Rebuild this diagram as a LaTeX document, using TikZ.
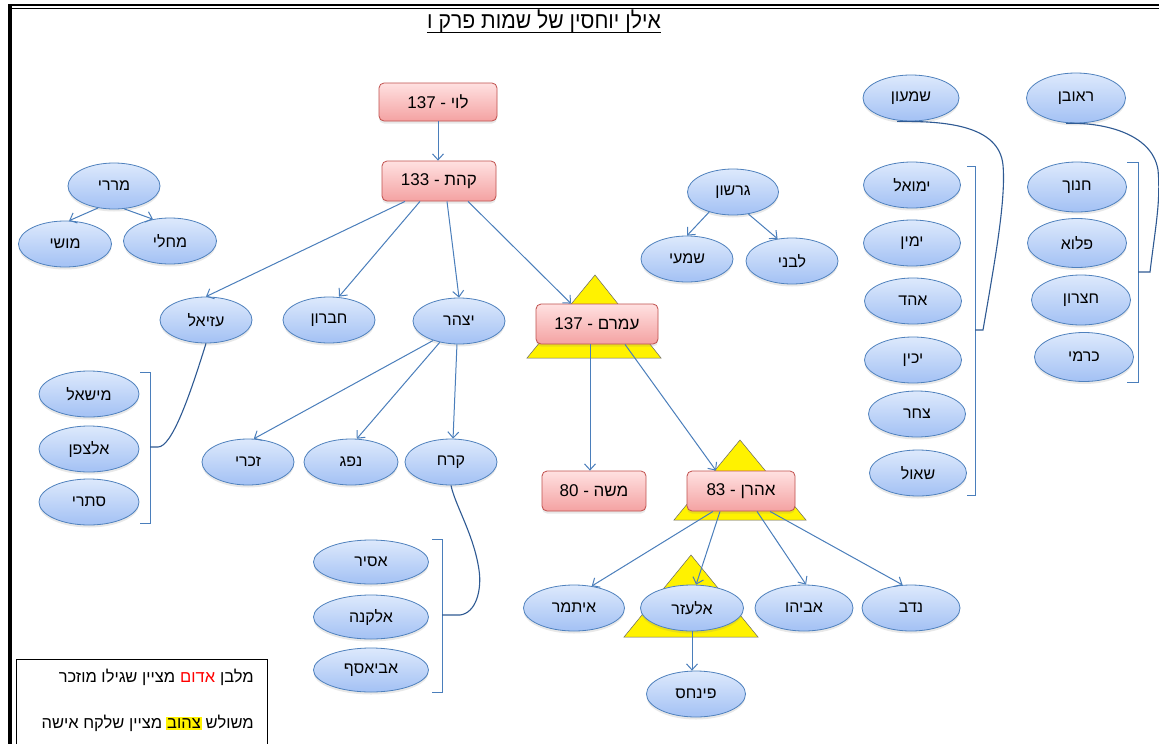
\documentclass[tikz,border=0pt]{standalone}
\usepackage{fontspec}
\setmainfont{Liberation Sans}
\newfontfamily\hebfont[Script=Hebrew]{Liberation Sans}
\newfontfamily\titlefont[Script=Hebrew,FakeStretch=0.92]{Liberation Sans}
\TeXXeTstate=1
\usetikzlibrary{arrows.meta,shapes.geometric,shadows}
\newcommand{\heb}[1]{\beginR #1\endR}
\definecolor{linkblue}{HTML}{4A7EBB}
\definecolor{curveblue}{HTML}{2F5A93}
\definecolor{elltop}{HTML}{DDE9FC}
\definecolor{ellbot}{HTML}{A3C1F4}
\definecolor{ellline}{HTML}{4F81BD}
\definecolor{recttop}{HTML}{FFE1E1}
\definecolor{rectbot}{HTML}{F4A2A2}
\definecolor{rectline}{HTML}{C0504D}
\tikzset{
  son/.style={ellipse, draw=ellline, line width=0.8pt, top color=elltop, bottom color=ellbot,
    minimum width=92pt, minimum height=46pt, inner sep=0pt,
    font=\hebfont\fontsize{16pt}{18pt}\selectfont,
    drop shadow={opacity=0.18, shadow xshift=0pt, shadow yshift=-2.5pt}},
  elder/.style={rectangle, rounded corners=5pt, draw=rectline, line width=0.8pt, top color=recttop,
    bottom color=rectbot, minimum height=40pt, inner sep=0pt,
    font=\hebfont\fontsize{17pt}{19pt}\selectfont,
    drop shadow={opacity=0.18, shadow xshift=0pt, shadow yshift=-2.5pt}},
  wife/.style={fill=yellow, draw=black!60, line width=0.5pt},
  link/.style={draw=linkblue, line width=1pt, -{Straight Barb[length=6pt,width=11pt]}},
  bracket/.style={draw=linkblue, line width=0.9pt},
  famline/.style={draw=curveblue, line width=1.1pt},
  keytext/.style={anchor=base east, inner sep=0pt, font=\hebfont\fontsize{16.5pt}{18pt}\selectfont}
}
\setlength{\fboxsep}{1.5pt}
\begin{document}
\begin{tikzpicture}[x=1pt, y=-1pt]
\useasboundingbox (0, 0) rectangle (1159, 744);
\fill [white] (0, 0) rectangle (1159, 744);

\draw [line width=2.5pt] (8, 5) -- (1159, 5);
\draw [line width=1.2pt] (12, 8.5) -- (1159, 8.5);
\draw [line width=4pt] (10, 4) -- (10, 744);

\node (title) at (544, 21) [inner sep=0pt, font=\titlefont\fontsize{23pt}{25pt}\selectfont] {\heb{אילן יוחסין של שמות פרק ו}};
\draw [line width=1pt] ([yshift=-4pt]title.base west) -- ([yshift=-4pt]title.base east);

\filldraw [wife] (595, 275) -- (527, 358) -- (661, 358) -- cycle;
\filldraw [wife] (740, 440) -- (674, 520) -- (806, 520) -- cycle;
\filldraw [wife] (691, 555) -- (624, 637) -- (758, 637) -- cycle;

\node (levi) at (438, 102) [elder, minimum width=118pt, minimum height=38pt] {\heb{לוי - 137}};
\node (kehat) at (439, 181) [elder, minimum width=114pt] {\heb{קהת - 133}};
\node (amram) at (597, 324) [elder, minimum width=122pt] {\heb{עמרם - 137}};
\node (moshe) at (594, 491) [elder, minimum width=104pt] {\heb{משה - 80}};
\node (aharon) at (741, 491) [elder, minimum width=108pt] {\heb{אהרן - 83}};

\node (mrari) at (114, 186) [son] {\heb{מררי}};
\node (moshi) at (65, 244) [son, minimum width=93pt] {\heb{מושי}};
\node (mahli) at (170, 241) [son, minimum width=93pt] {\heb{מחלי}};
\node (uzziel) at (206, 320) [son] {\heb{עזיאל}};
\node (hebron) at (329, 320) [son] {\heb{חברון}};
\node (izhar) at (459, 321) [son] {\heb{יצהר}};
\node (mishael) at (89, 394) [son, minimum width=100pt] {\heb{מישאל}};
\node (elzafan) at (89, 449) [son, minimum width=100pt] {\heb{אלצפן}};
\node (sitri) at (89, 502) [son, minimum width=100pt] {\heb{סתרי}};
\node (zichri) at (248, 462) [son] {\heb{זכרי}};
\node (nefeg) at (351, 462) [son, minimum width=94pt] {\heb{נפג}};
\node (korah) at (451, 462) [son] {\heb{קרח}};
\node (assir) at (371, 562) [son, minimum width=115pt, minimum height=44pt] {\heb{אסיר}};
\node (elkana) at (371, 617) [son, minimum width=115pt, minimum height=44pt] {\heb{אלקנה}};
\node (aviasaf) at (371, 670) [son, minimum width=115pt, minimum height=44pt] {\heb{אביאסף}};
\node (gershon) at (733, 192) [son, minimum width=91pt] {\heb{גרשון}};
\node (shimi) at (687, 259) [son] {\heb{שמעי}};
\node (livni) at (792, 261) [son] {\heb{לבני}};
\node (itamar) at (574, 608) [son, minimum width=101pt] {\heb{איתמר}};
\node (elazar) at (692, 608) [son, minimum width=103pt] {\heb{אלעזר}};
\node (avihu) at (804, 608) [son, minimum width=98pt] {\heb{אביהו}};
\node (nadav) at (911, 608) [son, minimum width=98pt] {\heb{נדב}};
\node (pinchas) at (696, 694) [son, minimum width=99pt] {\heb{פינחס}};
\node (shimon) at (911, 98) [son, minimum width=96pt] {\heb{שמעון}};
\node (reuven) at (1076, 98) [son, minimum width=99pt, minimum height=50pt] {\heb{ראובן}};
\node (yemuel) at (912, 185) [son, minimum width=97pt] {\heb{ימואל}};
\node (yamin) at (912, 243) [son, minimum width=97pt] {\heb{ימין}};
\node (ohad) at (913, 301) [son, minimum width=97pt] {\heb{אהד}};
\node (yachin) at (913, 360) [son, minimum width=97pt] {\heb{יכין}};
\node (zohar) at (917, 414) [son, minimum width=97pt] {\heb{צחר}};
\node (shaul) at (918, 473) [son, minimum width=97pt] {\heb{שאול}};
\node (hanoch) at (1077, 187) [son, minimum width=99pt, minimum height=50pt] {\heb{חנוך}};
\node (palu) at (1077, 243) [son, minimum width=99pt, minimum height=49pt] {\heb{פלוא}};
\node (hezron) at (1081, 300) [son, minimum width=99pt, minimum height=50pt] {\heb{חצרון}};
\node (karmi) at (1084, 357) [son, minimum width=99pt, minimum height=49pt] {\heb{כרמי}};

\draw [link] (levi.south) -- (levi.south |- kehat.north);
\draw [link] ([xshift=-34pt]kehat.south) -- (uzziel.north);
\draw [link] ([xshift=-19pt]kehat.south) -- ([xshift=10pt]hebron.north);
\draw [link] ([xshift=8pt]kehat.south) -- (izhar.north);
\draw [link] ([xshift=29pt]kehat.south) -- ([xshift=-26pt]amram.north);
\draw [link] (izhar.-143) -- (zichri.76);
\draw [link] (izhar.-132) -- (nefeg.76);
\draw [link] (izhar.-95) -- (korah.85);
\draw [link] (mrari.-126) -- (moshi.80);
\draw [link] (mrari.-66) -- (mahli.128);
\draw [link] (gershon.-140) -- (shimi.north);
\draw [link] (gershon.-55) -- (livni.123);
\draw [link] ([xshift=-7pt]amram.south) -- ([xshift=-4pt]moshe.north);
\draw [link] ([xshift=28pt]amram.south) -- ([xshift=-25pt]aharon.north);
\draw [link] ([xshift=-28pt]aharon.south) -- (itamar.51);
\draw [link] ([xshift=-21pt]aharon.south) -- (elazar.80);
\draw [link] ([xshift=16pt]aharon.south) -- (avihu.85);
\draw [link] ([xshift=29pt]aharon.south) -- (nadav.110);
\draw [link] (elazar.south) -- (elazar.south |- pinchas.north);

\draw [bracket] (140, 372) -- (150, 372) -- (150, 523) -- (140, 523);
\coordinate (uzfork) at (150, 447);
\draw [famline] (uzfork) -- ++(8, 0) .. controls (172, 447) and (190, 395) .. (uzziel.south);
\draw [bracket] (432, 539) -- (442, 539) -- (442, 692) -- (432, 692);
\coordinate (kofork) at (442, 615);
\draw [famline] (kofork) -- ++(18, 0) .. controls (476, 613) and (482, 590) .. (479, 570) .. controls (474, 535) and (455, 505) .. (korah.south);
\draw [bracket] (967, 166) -- (975, 166) -- (975, 495) -- (967, 495);
\coordinate (shfork) at (975, 330);
\draw [famline] (shfork) -- ++(8, 0) .. controls (995, 260) and (1006, 200) .. (1003, 165) .. controls (999, 125) and (945, 121) .. ([xshift=-14pt]shimon.south);
\draw [bracket] (1127, 162) -- (1138, 162) -- (1138, 382) -- (1127, 382);
\coordinate (refork) at (1138, 272);
\draw [famline] (refork) -- ++(12, 0) .. controls (1155, 230) and (1161, 200) .. (1158, 170) .. controls (1152, 132) and (1100, 122) .. ([xshift=-10pt]reuven.south);

\draw [line width=0.8pt] (16, 659) rectangle (267, 750);
\node (keyrect) at (254, 682) [keytext] {\heb{מלבן}};
\node (keyred) at ([xshift=-4.5pt]keyrect.base west) [keytext, text=red] {\heb{אדום}};
\node (keyredrest) at ([xshift=-4.5pt]keyred.base west) [keytext] {\heb{מציין שגילו מוזכר}};
\node (keytri) at (254, 728) [keytext] {\heb{משולש}};
\node (keyyellow) at ([xshift=-3pt]keytri.base west) [keytext] {\colorbox{yellow}{\heb{צהוב}}};
\node (keyyellowrest) at ([xshift=-3pt]keyyellow.base west) [keytext] {\heb{מציין שלקח אישה}};
\end{tikzpicture}
\end{document}
